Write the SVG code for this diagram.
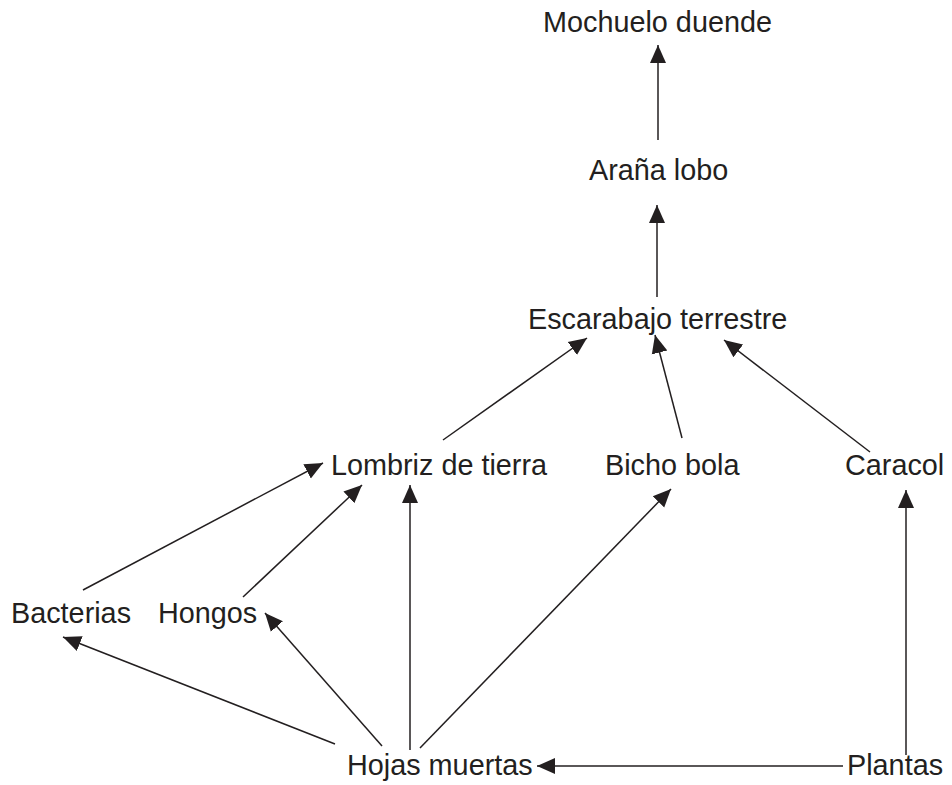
<svg xmlns="http://www.w3.org/2000/svg" width="952" height="785" viewBox="0 0 952 785">
<style>
text{font-family:"Liberation Sans",Arial,sans-serif;font-size:28.8px;fill:#231f20}
.c line{stroke:#231f20;stroke-width:1.5;fill:none;marker-end:url(#ah)}
</style>
<defs>
<marker id="ah" markerUnits="userSpaceOnUse" markerWidth="18" markerHeight="18" viewBox="0 0 18 16" refX="18" refY="8" orient="auto">
<path d="M0,0 L18,8 L0,16 Z" fill="#231f20"/>
</marker>
</defs>
<rect width="952" height="785" fill="#fff"/>
<g class="c" id="connectors">
<line x1="658" y1="140" x2="658" y2="45"/>
<line x1="657" y1="297" x2="657" y2="205"/>
<line x1="443" y1="440" x2="587" y2="338"/>
<line x1="682" y1="438" x2="655" y2="335"/>
<line x1="870" y1="452" x2="724" y2="340"/>
<line x1="83" y1="590" x2="323" y2="463"/>
<line x1="243" y1="597" x2="362" y2="485"/>
<line x1="410" y1="750" x2="410" y2="485"/>
<line x1="420" y1="748" x2="671" y2="489"/>
<line x1="382" y1="746" x2="265" y2="613"/>
<line x1="335" y1="744" x2="63" y2="637"/>
<line x1="843" y1="766" x2="537" y2="766"/>
<line x1="906" y1="755" x2="906" y2="490"/>
</g>
<g id="mochuelo"><text x="543" y="32">Mochuelo duende</text></g>
<g id="arana"><text x="589" y="180">Araña lobo</text></g>
<g id="escarabajo"><text x="528" y="329">Escarabajo terrestre</text></g>
<g id="lombriz"><text x="331" y="475">Lombriz de tierra</text></g>
<g id="bicho"><text x="605" y="475">Bicho bola</text></g>
<g id="caracol"><text x="845" y="475">Caracol</text></g>
<g id="bacterias"><text x="11" y="623">Bacterias</text></g>
<g id="hongos"><text x="158" y="623">Hongos</text></g>
<g id="hojas"><text x="347" y="775">Hojas muertas</text></g>
<g id="plantas"><text x="847" y="775">Plantas</text></g>
</svg>
